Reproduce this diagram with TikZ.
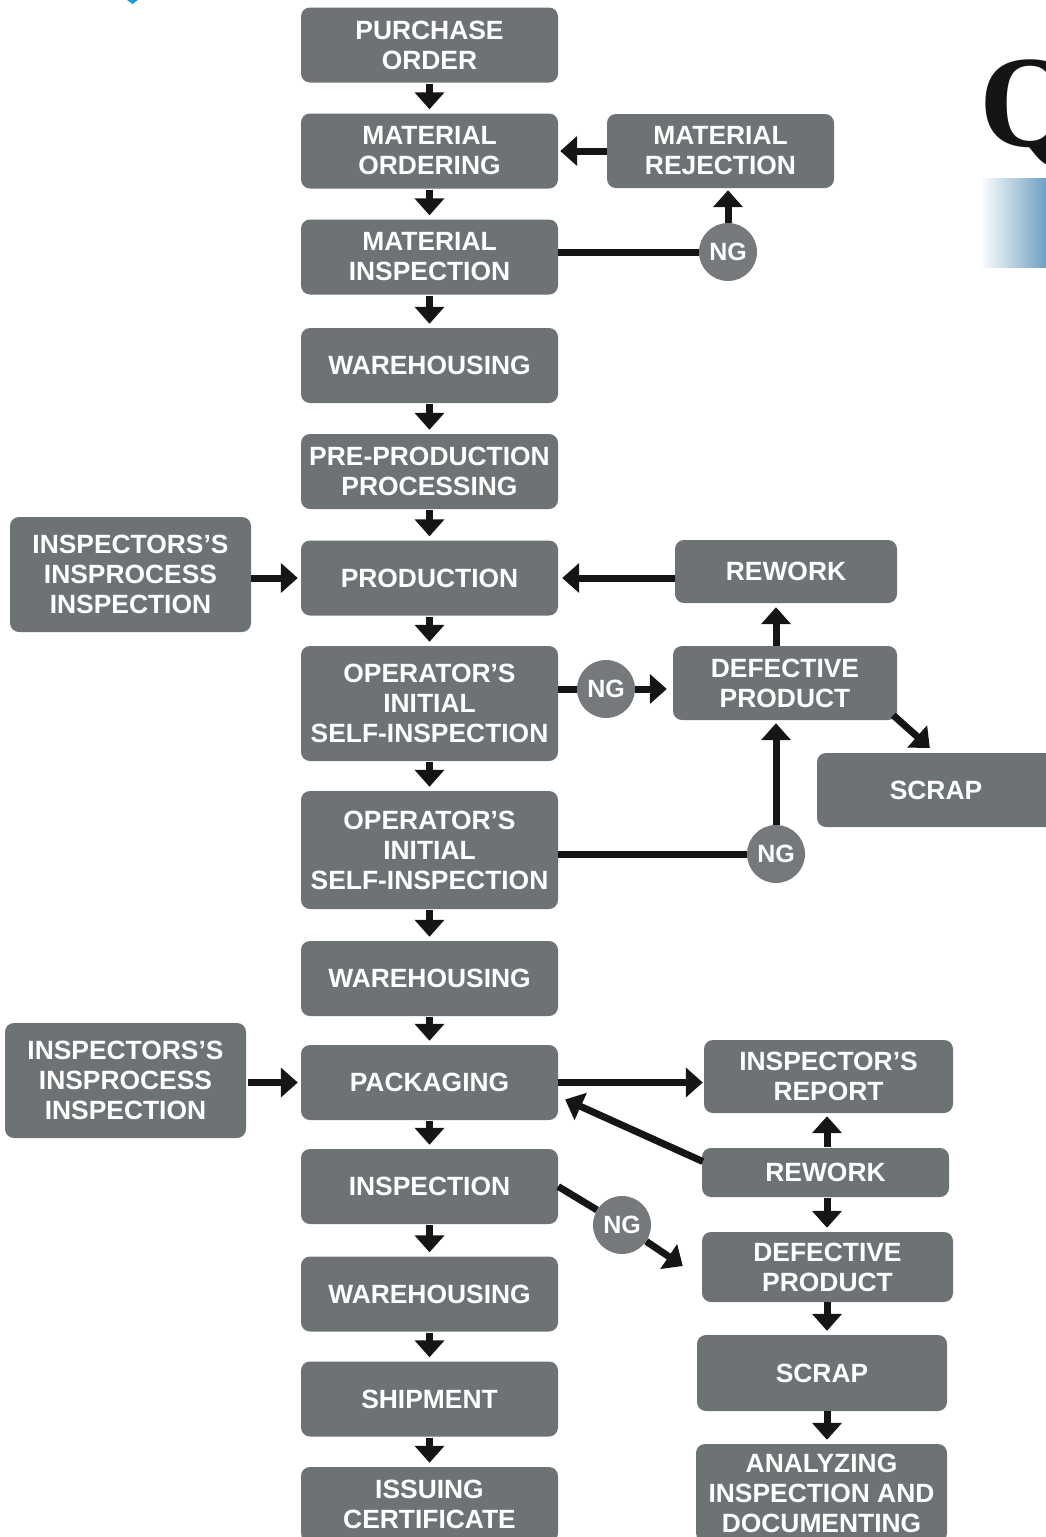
\documentclass[tikz,border=0pt]{standalone}
\usepackage{fontspec}
\setmainfont{Liberation Sans}
\newfontfamily\qfont{Liberation Serif}
\usepackage{tikz}
\usetikzlibrary{arrows.meta}
\usetikzlibrary{calc}
\definecolor{boxgray}{HTML}{6D7274}
\definecolor{nggray}{HTML}{76797B}
\definecolor{linkblack}{HTML}{151515}
\definecolor{barblue}{HTML}{6FA0C2}
\definecolor{markblue}{HTML}{1B9BD7}

\begin{document}
\begin{tikzpicture}[x=1pt, y=-1pt,
  stage/.style={fill=boxgray, rounded corners=9pt, text=white, align=center, inner sep=0pt,
    font=\bfseries\fontsize{26.4}{30}\selectfont, minimum width=257pt, minimum height=75pt},
  ng/.style={circle, fill=nggray, text=white, inner sep=0pt, minimum size=58pt,
    font=\bfseries\fontsize{25}{30}\selectfont},
  flow/.style={draw=linkblack, line width=7pt, -{Triangle[length=17pt,width=29pt]}},
  link/.style={draw=linkblack, line width=7pt},
  down/.style={flow, shorten <=1pt, shorten >=4pt}]
\useasboundingbox (0,0) rectangle (1046,1537);
\clip (0,0) rectangle (1046,1537);

\fill[markblue] (127,0) -- (138,0) -- (132.5,4) -- cycle;
\node[anchor=base west, inner sep=0pt, text=black!92, font=\qfont\bfseries\fontsize{131}{131}\selectfont] (qmark) at (979,146) {Q};
\shade[left color=white, right color=barblue] (980,178) rectangle (1046,267);

% main column
\node[stage] (po) at (429.5,45) {PURCHASE\\ORDER};
\node[stage] (mo) at (429.5,151) {MATERIAL\\ORDERING};
\node[stage] (mi) at (429.5,257) {MATERIAL\\INSPECTION};
\node[stage] (wh1) at (429.5,365.5) {WAREHOUSING};
\node[stage] (pp) at (429.5,471.5) {PRE-PRODUCTION\\PROCESSING};
\node[stage] (prod) at (429.5,578) {PRODUCTION};
\node[stage, minimum height=115pt] (ops1) at (429.5,703.5) {OPERATOR’S\\INITIAL\\SELF-INSPECTION};
\node[stage, minimum height=118pt] (ops2) at (429.5,850) {OPERATOR’S\\INITIAL\\SELF-INSPECTION};
\node[stage] (wh2) at (429.5,978.5) {WAREHOUSING};
\node[stage] (pack) at (429.5,1082.5) {PACKAGING};
\node[stage] (insp) at (429.5,1186.5) {INSPECTION};
\node[stage] (wh3) at (429.5,1294) {WAREHOUSING};
\node[stage] (ship) at (429.5,1399) {SHIPMENT};
\node[stage] (cert) at (429.5,1504.5) {ISSUING\\CERTIFICATE};

% side boxes
\node[stage, minimum width=227pt, minimum height=74pt] (mrej) at (720.5,151) {MATERIAL\\REJECTION};
\node[stage, minimum width=222pt, minimum height=63pt] (rew1) at (786,571.5) {REWORK};
\node[stage, minimum width=224pt, minimum height=74pt] (def1) at (785,683) {DEFECTIVE\\PRODUCT};
\node[stage, minimum width=238pt, minimum height=74pt] (scrap1) at (936,790) {SCRAP};
\node[stage, minimum width=241pt, minimum height=115pt] (insl1) at (130.5,574.5) {INSPECTORS’S\\INSPROCESS\\INSPECTION};
\node[stage, minimum width=241pt, minimum height=115pt] (insl2) at (125.5,1080.5) {INSPECTORS’S\\INSPROCESS\\INSPECTION};
\node[stage, minimum width=249pt, minimum height=73pt] (rep) at (828.5,1076.5) {INSPECTOR’S\\REPORT};
\node[stage, minimum width=247pt, minimum height=49pt] (rew2) at (825.5,1172.5) {REWORK};
\node[stage, minimum width=251pt, minimum height=70pt] (def2) at (827.5,1267) {DEFECTIVE\\PRODUCT};
\node[stage, minimum width=250pt, minimum height=76pt] (scrap2) at (822,1373) {SCRAP};
\node[stage, minimum width=251pt, minimum height=98pt] (ana) at (821.5,1493) {ANALYZING\\INSPECTION AND\\DOCUMENTING};

\node[ng] (ng1) at (728,252) {NG};
\node[ng] (ng2) at (606,689) {NG};
\node[ng] (ng3) at (776,854) {NG};
\node[ng] (ng4) at (622,1225) {NG};
\coordinate (rcol) at (827,0);

\draw[down] (po) -- (mo);
\draw[down] (mo) -- (mi);
\draw[down] (mi) -- (wh1);
\draw[down] (wh1) -- (pp);
\draw[down] (pp) -- (prod);
\draw[down] (prod) -- (ops1);
\draw[down] (ops1) -- (ops2);
\draw[down] (ops2) -- (wh2);
\draw[down] (wh2) -- (pack);
\draw[down] (pack) -- (insp);
\draw[down] (insp) -- (wh3);
\draw[down] (wh3) -- (ship);
\draw[down] (ship) -- (cert);

\draw[link] (ng1 -| mi.east) -- (ng1);
\draw[flow, shorten >=2pt] (ng1) -- (mrej.south -| ng1);
\draw[flow, shorten >=2pt] (mrej.west) -- (mrej.west -| mo.east);

\draw[flow, shorten >=4pt] (prod -| rew1.west) -- (prod.east);
\draw[flow, shorten >=3pt] (insl1.east |- prod) -- (prod.west);
\draw[link] (ng2 -| ops1.east) -- (ng2);
\draw[flow, shorten >=6pt] (ng2) -- (ng2 -| def1.west);
\draw[flow, shorten >=4pt] (ng3 |- def1.north) -- (ng3 |- rew1.south);
\draw[link] (ng3 -| ops2.east) -- (ng3);
\draw[flow, shorten >=3pt] (ng3) -- (ng3 |- def1.south);
\draw[flow] ($(def1.south east)+(-4,-5)$) -- ($(scrap1.north west)+(113,-5)$);

\draw[flow, shorten <=2pt, shorten >=3pt] (insl2.east |- pack) -- (pack.west);
\draw[flow, shorten >=1pt] (pack.east) -- (pack -| rep.west);
\draw[flow, shorten <=1pt, shorten >=3pt] (rew2.north -| rcol) -- (rep.south -| rcol);
\draw[flow, shorten <=1pt, shorten >=4pt] (rew2.south -| rcol) -- (def2.north -| rcol);
\draw[flow] ($(rew2.west)+(1,-11)$) -- ($(pack.east)+(7,17)$);
\draw[link] (insp.east) -- (ng4);
\draw[flow] (ng4) -- ($(def2.west)+(-19,-1)$);
\draw[flow, shorten >=4pt] (def2.south -| rcol) -- (scrap2.north -| rcol);
\draw[flow, shorten >=4pt] (scrap2.south -| rcol) -- (ana.north -| rcol);
\end{tikzpicture}
\end{document}
